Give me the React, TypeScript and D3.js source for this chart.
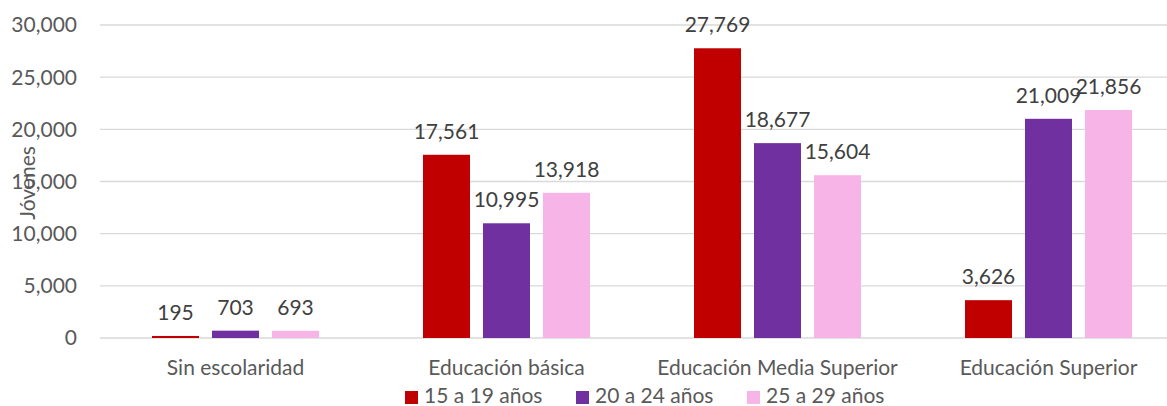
import { useEffect, useRef } from 'react';
import * as d3 from 'd3';

const categories = ['Sin escolaridad', 'Educación básica', 'Educación Media Superior', 'Educación Superior'];
const seriesNames = ['15 a 19 años', '20 a 24 años', '25 a 29 años'];
const values15a19 = [195, 17561, 27769, 3626];
const values20a24 = [703, 10995, 18677, 21009];
const values25a29 = [693, 13918, 15604, 21856];
const yTicks = [0, 5000, 10000, 15000, 20000, 25000, 30000];
const colors = ['#C00000', '#7030A0', '#F7B4E7'];

export default function App() {
  const svgRef = useRef<SVGSVGElement>(null);
  const width = 1167;
  const height = 406;

  useEffect(() => {
    if (!svgRef.current) return;
    const svg = d3.select(svgRef.current);
    svg.selectAll('*').remove();

    const font = 'Lato, "Noto Sans", sans-serif';
    const left = 100;
    const right = 1184;
    const top = 25;
    const bottom = 338;

    const series = [values15a19, values20a24, values25a29];

    const x0 = d3.scaleBand<string>().domain(categories).range([left, right]);
    const x1 = d3.scaleBand<string>()
      .domain(seriesNames)
      .range([52, 219])
      .paddingInner(13 / 60);
    const y = d3.scaleLinear().domain([0, 30000]).range([bottom, top]);

    // Gridlines
    svg.append('g')
      .selectAll('line')
      .data(yTicks)
      .enter()
      .append('line')
      .attr('x1', left)
      .attr('x2', right)
      .attr('y1', d => y(d))
      .attr('y2', d => y(d))
      .attr('stroke', '#d9d9d9')
      .attr('stroke-width', 1.3);

    // Y tick labels
    svg.append('g')
      .selectAll('text')
      .data(yTicks)
      .enter()
      .append('text')
      .attr('x', 77)
      .attr('y', d => y(d))
      .attr('dy', '0.35em')
      .attr('text-anchor', 'end')
      .attr('font-size', '21px')
      .attr('fill', '#595959')
      .style('font-family', font)
      .text(d => d3.format(',')(d));

    // Y axis title
    svg.append('text')
      .attr('transform', `translate(35, 183) rotate(-90)`)
      .attr('text-anchor', 'middle')
      .attr('font-size', '21px')
      .attr('fill', '#595959')
      .style('font-family', font)
      .text('Jóvenes');

    // Bars
    const groups = svg.append('g')
      .selectAll('g')
      .data(categories)
      .enter()
      .append('g')
      .attr('transform', d => `translate(${x0(d)}, 0)`);

    groups.each(function (cat, ci) {
      const g = d3.select(this);
      seriesNames.forEach((s, si) => {
        const v = series[si][ci];
        g.append('rect')
          .attr('x', x1(s)!)
          .attr('y', y(v))
          .attr('width', x1.bandwidth())
          .attr('height', y(0) - y(v))
          .attr('fill', colors[si]);
        g.append('text')
          .attr('x', x1(s)! + x1.bandwidth() / 2)
          .attr('y', y(v) - 16)
          .attr('text-anchor', 'middle')
          .attr('font-size', '21px')
          .attr('fill', '#404040')
          .style('font-family', font)
          .text(d3.format(',')(v));
      });
    });

    // Category labels
    svg.append('g')
      .selectAll('text')
      .data(categories)
      .enter()
      .append('text')
      .attr('x', d => x0(d)! + x0.bandwidth() / 2)
      .attr('y', 375)
      .attr('text-anchor', 'middle')
      .attr('font-size', '21px')
      .attr('fill', '#595959')
      .style('font-family', font)
      .text(d => d);

    // Legend
    const legendX = [405, 576, 747];
    const legend = svg.append('g');
    seriesNames.forEach((s, i) => {
      legend.append('rect')
        .attr('x', legendX[i])
        .attr('y', 391)
        .attr('width', 13)
        .attr('height', 13)
        .attr('fill', colors[i]);
      legend.append('text')
        .attr('x', legendX[i] + 19)
        .attr('y', 403)
        .attr('font-size', '21px')
        .attr('fill', '#595959')
        .style('font-family', font)
        .text(s);
    });
  }, []);

  return (
    <svg
      ref={svgRef}
      width={width}
      height={height}
      style={{ position: 'absolute', left: 0, top: 0, background: '#fff' }}
    />
  );
}
